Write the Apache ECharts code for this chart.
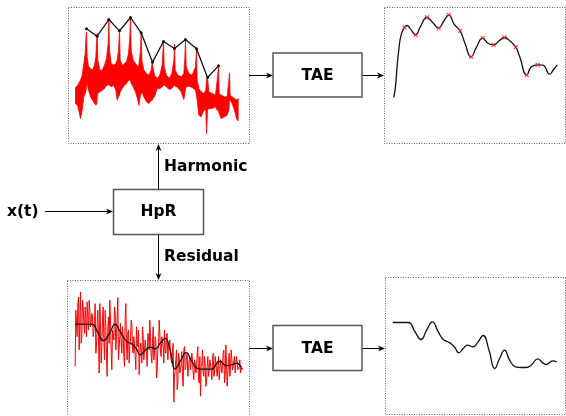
<!DOCTYPE html>
<html>
<head>
<meta charset="utf-8">
<script src="https://cdn.jsdelivr.net/npm/echarts@6/dist/echarts.min.js"></script>
<style>
html,body{margin:0;padding:0;background:#fff;}
#chart{width:566px;height:416px;}
</style>
</head>
<body>
<div id="chart"></div>
<script>
// ---------- Harmonic part (top-left): dense red spectrum band + black peak envelope ----------
const harmTime  = [45,52,60,65,70,74,77,78,80,84,90,96,102,106,109,110,112,118,125,132,138,143,145,147,152,160,166,170,174,177,179,185,192,198,204,208,210,212,218,225,232,235,240,242,244,250,258,265,272,275,277,282,290,298,305,309,311,318,326,334,340,342,344,352,362,370,373,375,377,385,395,405,408,410,415,422,430,436,438,441,445,455,465,470,474,476,482,492,500,505,507,509,515,522,528,533];
const harmUpper = [238,245,260,275,310,340,400,405,330,300,295,290,305,330,390,400,320,290,290,305,325,370,440,350,310,305,310,320,350,408,320,305,310,315,340,390,448,350,320,310,300,305,350,402,320,290,280,275,290,314,300,275,265,275,305,378,300,275,265,280,320,368,290,275,270,280,325,382,300,280,275,300,350,260,235,225,220,230,260,268,225,220,215,260,300,220,215,210,210,260,282,215,210,205,200,205];
const harmLower = [190,182,145,170,210,220,230,250,250,230,210,200,190,185,190,210,220,225,230,235,245,245,250,245,240,245,230,200,210,215,225,235,245,250,260,260,260,250,240,225,200,185,215,220,225,210,195,190,200,200,205,210,235,235,240,245,245,240,232,235,245,245,242,238,225,202,220,235,240,242,238,230,215,200,155,150,170,170,100,170,175,175,180,170,170,160,145,150,155,170,200,200,190,170,145,138];
const peakTime  = [78,110,145,177,210,242,276,309,342,375,408,441,474];
const peakAmp   = [414,392,442,408,448,402,314,376,355,382,354,268,303];

// ---------- TAE of harmonic part (top-right) ----------
const taeHTime  = [40,45,50,55,62,72,80,90,106,120,140,158,175,190,206,222,240,255,273,290,308,325,341,358,374,390,408,420,441,455,474,490,510,522,533];
const taeHAmp   = [208,240,300,350,395,418,424,414,396,420,448,432,416,436,456,428,408,370,330,360,386,370,366,378,388,378,359,330,275,300,306,305,278,292,306];
const taeHMarkTime = [72,106,140,175,206,240,273,308,341,374,408,441,474];
const taeHMarkAmp  = [418,396,448,416,456,408,330,386,366,388,359,275,306];

// ---------- Residual part (bottom-left): noisy red signal + black smooth trend ----------
const resStart = 45, resStep = 4;            // even samples at 45,49,53,...; odd samples 2 units later
const resAmpEven = [210,340,400,260,435,300,390,310,350,405,320,380,330,360,320,400,270,380,190,340,270,390,230,330,180,360,410,250,320,290,370,300,418,270,340,250,300,210,400,230,320,270,350,260,300,240,330,270,185,280,220,300,230,270,210,300,350,240,280,230,300,175,260,350,250,300,270,320,250,310,270,290,230,260,102,200,260,160,240,200,255,150,270,210,250,180,240,200,230,170,220,200,270,160,120,220,190,240,150,210,180,230,200,225,180,240,200,210,170,230,190,250,160,275,150,220,180,260,200,230,190,240,200,210,190,200];
const resAmpOdd  = [380,300,420,350,280,410,340,390,300,360,410,330,370,300,360,250,340,300,400,220,350,290,380,240,330,280,350,200,310,390,260,360,230,300,280,330,240,360,270,310,220,290,340,250,300,200,280,320,240,270,330,230,290,250,310,260,300,220,330,250,290,200,270,310,240,280,220,260,300,230,270,240,220,280,180,230,140,250,190,220,170,260,200,240,180,230,200,250,190,230,190,250,170,240,210,260,180,220,160,240,200,230,170,250,190,220,180,240,200,230,210,260,180,220,190,250,200,230,210,240,190,220,200,230,210,205];
const resTrendTime = [45,70,95,112,130,148,165,180,200,215,228,240,255,270,285,300,315,330,345,360,378,395,410,425,440,455,478,500,520,530,542];
const resTrendAmp  = [338,338,338,315,288,310,338,315,285,278,265,245,258,268,263,280,295,260,202,225,252,225,205,202,202,202,226,212,217,220,208];

// ---------- TAE of residual part (bottom-right) ----------
const taeRTime = [38,60,85,105,123,140,157,175,190,210,225,237,250,263,280,295,310,328,345,360,375,390,408,425,440,455,475,490,500,520,532];
const taeRAmp  = [343,343,343,315,292,320,345,315,292,282,268,252,265,275,270,285,304,260,205,235,260,230,210,208,208,215,234,222,217,228,225];

// ---------- Diagram labels ----------
const labels = {input:'x(t)', hpr:'HpR', tae:'TAE', harmonic:'Harmonic', residual:'Residual'};

// ---------- build ----------
const pairs = (xs, ys) => xs.map((x, i) => [x, ys[i]]);
const resPairs = [];
resAmpEven.forEach((v, i) => {
  resPairs.push([resStart + i * resStep, v]);
  resPairs.push([resStart + i * resStep + resStep / 2, resAmpOdd[i]]);
});

const FONT = 'bold 15.5px "DejaVu Sans", sans-serif';
const BOX = '#555';
function arrowHead(tx, ty, dir) {
  const L = 7, W = 3, N = 5;
  let pts;
  if (dir === 'right') pts = [[tx,ty],[tx-L,ty-W],[tx-N,ty],[tx-L,ty+W]];
  else if (dir === 'up') pts = [[tx,ty],[tx-W,ty+L],[tx,ty+N],[tx+W,ty+L]];
  else pts = [[tx,ty],[tx-W,ty-L],[tx,ty-N],[tx+W,ty-L]];
  return {type:'polygon', z:100, shape:{points:pts}, style:{fill:'#000'}};
}
function line(x1,y1,x2,y2,stroke,lw){
  return {type:'line', z:100, shape:{x1,y1,x2,y2}, style:{stroke:stroke||'#000', lineWidth:lw||1}};
}
function frame(x,y,w,h){
  return {type:'rect', z:90, shape:{x:x+0.5,y:y+0.5,width:w,height:h}, style:{fill:'none', stroke:'#666', lineWidth:1, lineDash:[1,1.5]}};
}
function box(x,y,w,h){
  return {type:'rect', z:95, shape:{x,y,width:w,height:h}, style:{fill:'#fff', stroke:BOX, lineWidth:1.5}};
}
function text(str,x,y,align){
  return {type:'text', z:110, style:{text:str, x, y, font:FONT, fill:'#000', textAlign:align||'center', textVerticalAlign:'middle'}};
}

const graphics = [
  frame(68,7,181,136), frame(384,7,181,136), frame(67,280,182,140), frame(385,277,180,137),
  box(113.5,189.5,90,45), box(273,53,89,44), box(273,325.5,89,45),
  line(45,211.5,110,211.5), arrowHead(113,211.5,'right'),
  line(158.5,189,158.5,147), arrowHead(158.5,144,'up'),
  line(158.5,235,158.5,277), arrowHead(158.5,280,'down'),
  line(249,75.5,270,75.5), arrowHead(273,75.5,'right'),
  line(363,75.5,381,75.5), arrowHead(384,75.5,'right'),
  line(249,348.5,270,348.5), arrowHead(273,348.5,'right'),
  line(363,348.5,382,348.5), arrowHead(385,348.5,'right'),
  text(labels.input,7,211.5,'left'),
  text(labels.hpr,158.5,211.5),
  text(labels.tae,317.5,76),
  text(labels.tae,317.5,348.5),
  text(labels.harmonic,164,166.5,'left'),
  text(labels.residual,164,257,'left')
];

function hiddenAxis(gi,min,max){ return {type:'value', gridIndex:gi, min, max, show:false, splitLine:{show:false}}; }

// band between upper and lower envelopes of the dense harmonic signal, positioned via the axis scales
function renderBand(params, api) {
  const top = harmTime.map((t, i) => api.coord([t, harmUpper[i]]));
  const bottom = harmTime.map((t, i) => api.coord([t, harmLower[i]])).reverse();
  return {type:'polygon', shape:{points: top.concat(bottom)}, style:{fill:'#ff0000', stroke:'#ff0000', lineWidth:0.8}};
}

const option = {
  animation:false,
  backgroundColor:'#fff',
  grid:[
    {left:68.5, top:7.5, width:181, height:136},
    {left:384.5, top:7.5, width:181, height:136},
    {left:67.5, top:280.5, width:182, height:136.7},
    {left:385.5, top:277.5, width:181, height:136.7}
  ],
  xAxis:[hiddenAxis(0,24,567), hiddenAxis(1,12,558), hiddenAxis(2,22,568), hiddenAxis(3,16,560)],
  yAxis:[hiddenAxis(0,70,478), hiddenAxis(1,70,478), hiddenAxis(2,60,470), hiddenAxis(3,68,478)],
  series:[
    {type:'custom', xAxisIndex:0, yAxisIndex:0, data:[[harmTime[0], harmLower[0]]], renderItem:renderBand, silent:true, z:2},
    {type:'line', xAxisIndex:0, yAxisIndex:0, data:pairs(peakTime,peakAmp), symbol:'circle', symbolSize:3, itemStyle:{color:'#111'}, lineStyle:{color:'#111', width:1.3}, z:5},
    {type:'line', xAxisIndex:1, yAxisIndex:1, data:pairs(taeHTime,taeHAmp), smooth:0.5, symbol:'none', lineStyle:{color:'#111', width:1.3}},
    {type:'scatter', xAxisIndex:1, yAxisIndex:1, data:pairs(taeHMarkTime,taeHMarkAmp), symbol:'path://M0,0L10,10M10,0L0,10', symbolSize:4, itemStyle:{color:'rgba(0,0,0,0)', borderColor:'#ff2020', borderWidth:1.2}, z:5},
    {type:'line', xAxisIndex:2, yAxisIndex:2, data:resPairs, symbol:'none', lineStyle:{color:'#ff0000', width:1}},
    {type:'line', xAxisIndex:2, yAxisIndex:2, data:pairs(resTrendTime,resTrendAmp), smooth:0.5, symbol:'none', lineStyle:{color:'#111', width:1.3}, z:5},
    {type:'line', xAxisIndex:3, yAxisIndex:3, data:pairs(taeRTime,taeRAmp), smooth:0.5, symbol:'none', lineStyle:{color:'#111', width:1.3}}
  ],
  graphic:graphics
};
const chart = echarts.init(document.getElementById('chart'), null, {renderer:'canvas'});
chart.setOption(option);
</script>
</body>
</html>
